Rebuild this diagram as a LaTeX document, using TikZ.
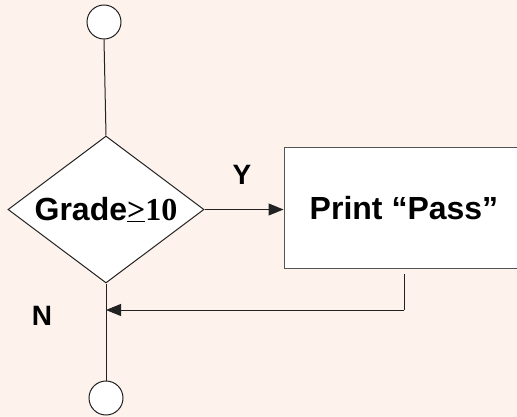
\documentclass[tikz,border=0pt]{standalone}
\usepackage{fontspec}
\setmainfont{Liberation Sans}
\newfontfamily\tnr{Liberation Serif}
\usetikzlibrary{shapes.geometric,arrows.meta}
\definecolor{bgpeach}{HTML}{FDF2EC}
\definecolor{linegray}{HTML}{222222}
\definecolor{boxgray}{HTML}{555555}
\tikzset{
  conn/.style={draw=linegray, line width=1pt},
  arr/.style={conn, -{Triangle[length=15pt,width=12pt]}},
  term/.style={circle, draw=linegray, line width=1pt, fill=white, minimum size=34pt, inner sep=0pt},
  decide/.style={diamond, draw=linegray, line width=1pt, fill=white, minimum width=196pt, minimum height=147pt, shape aspect=1.333, inner sep=0pt},
  procbox/.style={rectangle, draw=boxgray, line width=1pt, fill=white, minimum width=240pt, minimum height=120pt, inner sep=0pt},
  lbl/.style={font=\fontsize{28}{32}\selectfont\bfseries, inner sep=0pt},
  txt/.style={font=\fontsize{32}{36}\selectfont\bfseries}
}
\begin{document}
\begin{tikzpicture}[x=1pt,y=-1pt]
\fill[bgpeach] (0,0) rectangle (517,417);
\useasboundingbox (0,0) rectangle (517,417);
\begin{scope}
\clip (0,0) rectangle (517,417);
\node[term] (start) at (104,22) {};
\node[decide, txt] (dec) at (106,209.5) {Grade{\tnr\bfseries\underline{>}10}};
\node[procbox, txt] (pr) at (404,208) {Print “Pass”};
\node[term] (stop) at (106,398) {};
\coordinate (out) at (404,274);
\coordinate (bend) at (404,310);
\coordinate (merge) at (106,310);
\draw[conn] (start.south) -- (dec.north);
\draw[arr] (dec.east) -- (pr.west |- dec.east);
\draw[conn] (dec.south) -- (stop.north);
\draw[conn] (out) -- (bend);
\draw[arr] (bend) -- (merge);
\node[lbl] (ylab) at (242,175) {Y};
\node[lbl] (nlab) at (42,316) {N};
\end{scope}
\end{tikzpicture}
\end{document}
